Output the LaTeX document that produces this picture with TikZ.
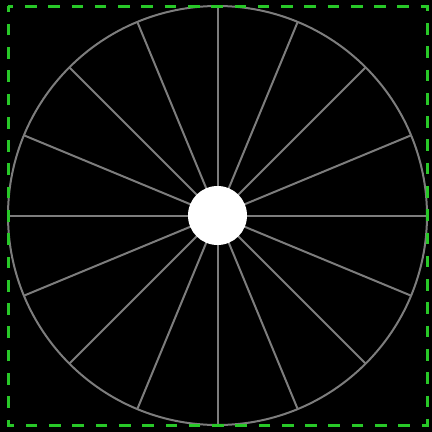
\documentclass[tikz,border=0pt]{standalone}
\begin{document}
\begin{tikzpicture}[x=1pt,y=-1pt,
  spoke/.style={draw={rgb,255:red,125;green,125;blue,125},line width=2pt},
  frame/.style={draw={rgb,255:red,40;green,200;blue,40},line width=3pt,
    dash pattern=on 11.64pt off 11.64pt,dash phase=6.3pt}]
\fill[black] (0,0) rectangle (432,432);
\useasboundingbox (0,0) rectangle (432,432);
\coordinate (c) at (217.5,215.5);
\foreach \a in {0,22.5,...,337.5}{
  \draw[spoke] (c) -- ++(\a:209.5);
}
\draw[spoke] (c) circle (209.5);
\node[circle,fill=white,minimum size=59pt,inner sep=0pt] (hub) at (c) {};
\coordinate (tl) at (8,6);
\coordinate (tr) at (427,6);
\coordinate (br) at (427,425);
\coordinate (bl) at (8,425);
\draw[frame] (tl) -- (tr) -- (br) -- (bl) -- cycle;
\end{tikzpicture}
\end{document}
